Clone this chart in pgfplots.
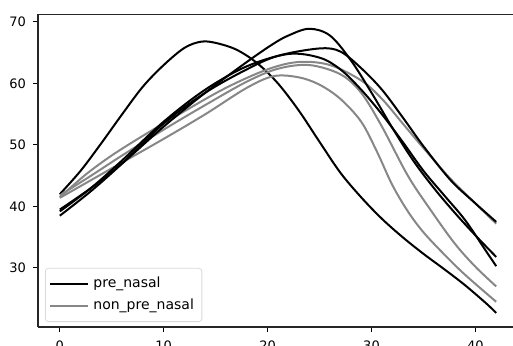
\documentclass[border=0pt]{standalone}
\usepackage{pgfplots}
\pgfplotsset{compat=1.18}
\usepackage{fontspec}
\setmainfont{DejaVu Sans}
\definecolor{mgray}{RGB}{135,135,135}
\begin{document}
\begin{tikzpicture}
\path[use as bounding box] (-19pt,-9pt) rectangle (237.5pt,163.5pt);
\clip (-19pt,-9pt) rectangle (237.5pt,163.5pt);
\begin{axis}[
  overlay,
  at={(0pt,0pt)}, anchor=south west,
  scale only axis, width=240pt, height=156.5pt,
  xmin=-2.1, xmax=44.1, ymin=20.4, ymax=71.3,
  axis lines*=left, axis line style={-, line width=0.6pt, black!85},
  xtick={0,10,20,30,40}, ytick={30,40,50,60,70},
  tick align=outside, major tick length=2.5pt,
  tick style={black, line width=0.5pt},
  every tick label/.append style={font=\fontsize{6.5}{7.5}\selectfont},
  /pgf/number format/assume math mode=true,
  xticklabel style={yshift=-1pt},
  legend cell align=left,
  legend style={at={(3.5pt,2.5pt)}, anchor=south west, draw=black!15, rounded corners=1.5pt,
    font=\fontsize{7}{8.5}\selectfont, inner xsep=2pt, inner ysep=2.5pt, row sep=0pt},
  legend image code/.code={\draw[#1] (0pt,0pt) -- (15pt,0pt); \path (0pt,0pt) -- (19pt,0pt);},
  every axis plot/.append style={line width=1pt, smooth, tension=0.55},
]
\draw[line width=0.6pt, black!85] (rel axis cs:0,1) -- (rel axis cs:1,1);
% A black (early peak)
\addplot[black] coordinates {(0,42) (2,45.8) (4,50.3) (6,55) (8,59.5) (10,63) (12,65.8) (13.6,66.8) (15,66.6) (17,65.5) (19,63.3) (21,60) (23,55.6) (25,50.5) (27,45.5) (29,41.5) (31,38) (33,35) (35,32.3) (37,29.8) (39,27.2) (41,24.3) (42,22.7)};
\addlegendentry{pre\_nasal}
% G1 gray
\addplot[mgray] coordinates {(0,41.5) (2.5,45.2) (5,48.3) (8,51.5) (12,55.5) (16,59.3) (20,62.3) (23,63.5) (26,63) (29,60.5) (31,57.5) (33,53.5) (35,49.5) (37.6,44.5) (40,40.5) (42,37.2)};
\addlegendentry{non\_pre\_nasal}
\addplot[mgray] coordinates {(0,41.8) (3,45) (6,48.3) (10,52.5) (14,56.5) (18,60.3) (21,62.4) (24,63) (27,61.5) (29,58.5) (31,53) (33.5,45) (35.7,39.4) (38,34) (40,30.2) (42,27)};
\addplot[mgray] coordinates {(0,41.4) (5,46.2) (10,51) (14,55) (18,59.3) (20.6,61.2) (23,61) (25,59.8) (27,57.5) (29,53.8) (30.5,49) (32,43.5) (33.5,39.2) (35,35.8) (37,32.2) (39,28.9) (42,24.5)};
% black B, C, D
\addplot[black] coordinates {(0,39.5) (3,43) (6,47) (10,53) (14,58.5) (18,63.5) (20.5,66.4) (22,67.8) (24,68.9) (26,67.8) (28,63.8) (30,58.5) (32,52.8) (34,47.5) (36,43) (38,39) (40,35.3) (42,31.8)};
\addplot[black] coordinates {(0,38.5) (3,42.5) (6,47) (10,53.5) (14,58.5) (18,62.3) (21,64.5) (25,65.7) (27,65.2) (29,62.5) (31,59) (33,54.5) (35,49.8) (37.6,44.3) (40,40.5) (42,37.5)};
\addplot[black] coordinates {(0,39.2) (3,43) (6,47.5) (10,53.8) (14,59) (18,62.8) (22,64.8) (25,64.2) (27,62.3) (29,59) (31,55) (33,50.5) (35,45.8) (37,41.8) (39,37.8) (41,32.8) (42,30.3)};
\end{axis}
\end{tikzpicture}
\end{document}
